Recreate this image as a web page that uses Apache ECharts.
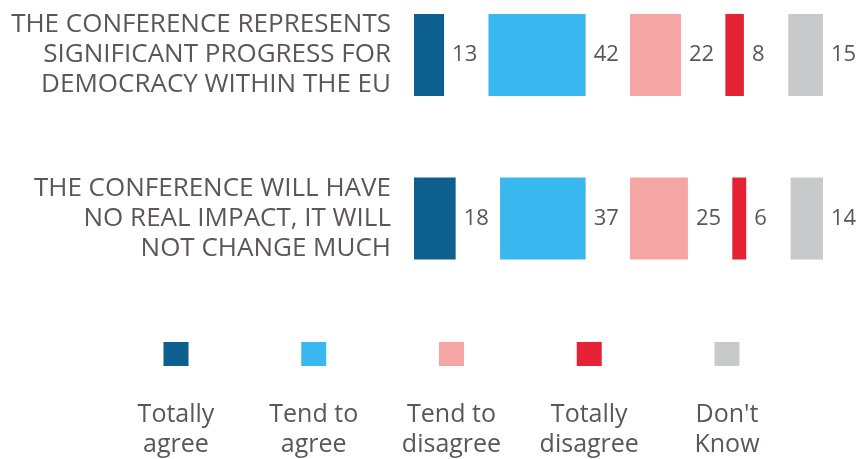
<!doctype html>
<html>
<head>
    <meta http-equiv="Content-Type" content="text/html; charset=utf-8">
    <title>Conference opinion</title>
    <script src="https://cdn.jsdelivr.net/npm/echarts@6/dist/echarts.min.js"></script>
    <style>
        html, body { margin: 0; padding: 0; background: #fff; }
        #chart { width: 856px; height: 459px; }
    </style>
</head>
<body>
<div id="chart"></div>
<script type="text/javascript">

    // data
    var categories = [
        'THE CONFERENCE REPRESENTS\nSIGNIFICANT PROGRESS FOR\nDEMOCRACY WITHIN THE EU',
        'THE CONFERENCE WILL HAVE\nNO REAL IMPACT, IT WILL\nNOT CHANGE MUCH'
    ];
    var answers = ['Totally agree', 'Tend to agree', 'Tend to disagree', 'Totally disagree', "Don't Know"];
    var legendTexts = ['Totally\nagree', 'Tend to\nagree', 'Tend to\ndisagree', 'Totally\ndisagree', "Don't\nKnow"];
    var totallyAgree    = [13, 18];
    var tendToAgree     = [42, 37];
    var tendToDisagree  = [22, 25];
    var totallyDisagree = [8, 6];
    var dontKnow        = [15, 14];

    var colors = ['#0d5f8f', '#38b8ee', '#f4a5a4', '#e52234', '#c8c9cb'];
    var textColor = '#5d5557';
    var GAP = 19.2; // empty space between segments, in value units

    var values = [totallyAgree, tendToAgree, tendToDisagree, totallyDisagree, dontKnow];
    var series = [];
    values.forEach(function (v, i) {
        if (i > 0) {
            series.push({
                type: 'bar', stack: 'row', barWidth: 82, silent: true, clip: false,
                itemStyle: { color: 'transparent' },
                data: categories.map(function () { return GAP; })
            });
        }
        series.push({
            name: answers[i], type: 'bar', stack: 'row', barWidth: 82, clip: false,
            itemStyle: { color: colors[i] },
            label: {
                show: true, position: 'right', distance: 8,
                fontFamily: 'Open Sans', fontSize: 22, color: textColor
            },
            data: v
        });
    });

    var rowMax = 0;
    categories.forEach(function (c, j) {
        var s = 0;
        values.forEach(function (v) { s += v[j]; });
        rowMax = Math.max(rowMax, s);
    });

    // legend drawn by hand: swatch above, two-line text below
    var graphic = [];
    answers.forEach(function (a, i) {
        var cx = 176 + i * 137.75;
        graphic.push({
            type: 'rect', left: cx - 12.5, top: 342,
            shape: { width: 25, height: 24 },
            style: { fill: colors[i] }
        });
        graphic.push({
            type: 'text', x: cx, y: 430,
            style: {
                text: legendTexts[i], fill: textColor,
                font: '25px "Open Sans"', lineHeight: 30,
                align: 'center', verticalAlign: 'middle'
            }
        });
    });

    var myChart = echarts.init(document.getElementById('chart'));
    var option = {
        animation: false,
        grid: { left: 414, width: 409, top: 55, height: 163.5 },
        xAxis: {
            type: 'value', min: 0, max: rowMax + 4 * GAP,
            show: false
        },
        yAxis: {
            type: 'category', inverse: true, data: categories, boundaryGap: false,
            axisLine: { show: false }, axisTick: { show: false }, splitLine: { show: false },
            axisLabel: {
                margin: 23, fontFamily: 'Open Sans', fontSize: 26,
                lineHeight: 30, color: textColor, align: 'right'
            }
        },
        graphic: graphic,
        series: series
    };
    myChart.setOption(option);

</script>
</body>
</html>
